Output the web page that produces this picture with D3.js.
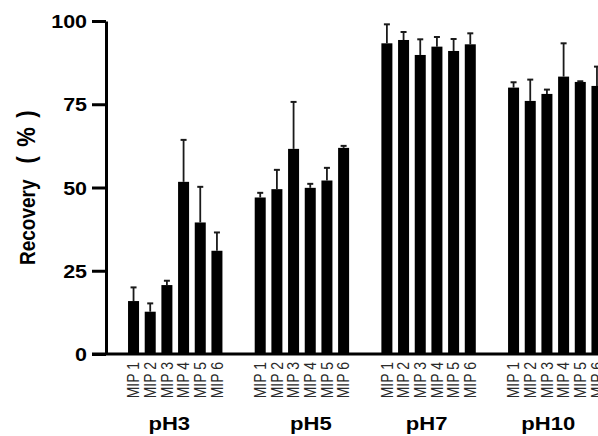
<!DOCTYPE html>
<html>
<head>
    <script src="https://d3js.org/d3.v7.min.js"></script>
    <style>
        body { margin: 0; background: #fff; font-family: "Liberation Sans", Arial, Helvetica, sans-serif; }
        svg { display: block; }
    </style>
</head>
<body>
    <svg width="598" height="436"></svg>
    <script>
        // categories
        let groups = ["pH3", "pH5", "pH7", "pH10"];
        let mips = ["MIP 1", "MIP 2", "MIP 3", "MIP 4", "MIP 5", "MIP 6"];
        let yTicks = [0, 25, 50, 75, 100];

        // recovery (%) means and upper error (SD)
        let pH3Mean = [15.9, 12.7, 20.7, 51.7, 39.5, 31.0];
        let pH3Err = [4.1, 2.5, 1.3, 12.6, 10.7, 5.5];
        let pH5Mean = [47.0, 49.5, 61.6, 49.9, 52.1, 61.9];
        let pH5Err = [1.4, 5.8, 14.1, 1.2, 3.8, 0.6];
        let pH7Mean = [93.3, 94.3, 89.8, 92.3, 91.0, 93.0];
        let pH7Err = [5.7, 2.4, 4.7, 2.9, 3.6, 3.3];
        let pH10Mean = [80.0, 76.0, 78.1, 83.3, 81.7, 80.5];
        let pH10Err = [1.6, 6.4, 1.3, 10.0, 0.2, 5.8];

        let means = [pH3Mean, pH5Mean, pH7Mean, pH10Mean];
        let errs = [pH3Err, pH5Err, pH7Err, pH10Err];

        let rows = [];
        groups.forEach((g, gi) => {
            mips.forEach((m, mi) => {
                rows.push({ group: g, mip: m, value: means[gi][mi], err: errs[gi][mi] });
            });
        });

        // the original figure is stretched a bit horizontally
        const stretch = "scale(1.16,1)";

        let svg = d3.select("svg");
        let axisX = 106, baseY = 354;

        let y = d3.scaleLinear().domain([0, 100]).range([baseY, 21]);

        let x0 = d3.scaleBand()
            .domain(groups)
            .range([125.2, 605.3])
            .paddingInner(0.21)
            .paddingOuter(0);

        let x1 = d3.scaleBand()
            .domain(mips)
            .range([0, x0.bandwidth()])
            .paddingInner(0.34)
            .paddingOuter(0.17);

        // bars
        svg.append("g").selectAll("rect")
            .data(rows)
            .enter().append("rect")
            .attr("x", d => x0(d.group) + x1(d.mip))
            .attr("y", d => y(d.value))
            .attr("width", x1.bandwidth())
            .attr("height", d => baseY - y(d.value))
            .attr("fill", "#000");

        // error bars (upper only)
        let eb = svg.append("g")
            .attr("stroke", "#1a1a1a");
        eb.selectAll("line.stem")
            .data(rows)
            .enter().append("line")
            .attr("class", "stem")
            .attr("stroke-width", 1.8)
            .attr("x1", d => x0(d.group) + x1(d.mip) + x1.bandwidth() / 2)
            .attr("x2", d => x0(d.group) + x1(d.mip) + x1.bandwidth() / 2)
            .attr("y1", d => y(d.value))
            .attr("y2", d => y(d.value + d.err));
        eb.selectAll("line.cap")
            .data(rows)
            .enter().append("line")
            .attr("class", "cap")
            .attr("stroke-width", 2)
            .attr("x1", d => x0(d.group) + x1(d.mip) + x1.bandwidth() / 2 - 3)
            .attr("x2", d => x0(d.group) + x1(d.mip) + x1.bandwidth() / 2 + 3)
            .attr("y1", d => y(d.value + d.err))
            .attr("y2", d => y(d.value + d.err));

        // y axis
        let yAxis = svg.append("g")
            .attr("transform", `translate(${axisX},0)`)
            .call(d3.axisLeft(y).tickValues(yTicks).tickSize(14).tickSizeOuter(0));
        yAxis.select(".domain").attr("stroke", "#000").attr("stroke-width", 3);
        yAxis.selectAll(".tick line").attr("stroke", "#000").attr("stroke-width", 3);
        yAxis.selectAll(".tick text")
            .attr("x", 0)
            .attr("dy", "0.36em")
            .attr("transform", `translate(-19,0) ${stretch}`)
            .attr("fill", "#000")
            .style("font-family", "'Liberation Sans', Arial, sans-serif")
            .style("font-size", "18.5px")
            .style("font-weight", "bold");

        // x axis baseline
        svg.append("line")
            .attr("x1", 92).attr("x2", 598)
            .attr("y1", baseY).attr("y2", baseY)
            .attr("stroke", "#000").attr("stroke-width", 3);

        // MIP tick labels per group
        groups.forEach(g => {
            let ax = svg.append("g")
                .attr("transform", `translate(${x0(g)},${baseY})`)
                .call(d3.axisBottom(x1).tickSize(0));
            ax.select(".domain").remove();
            ax.selectAll(".tick text")
                .attr("x", 0)
                .attr("y", 0)
                .attr("dy", "0.35em")
                .attr("text-anchor", "end")
                .attr("transform", `translate(0,8) ${stretch} rotate(-90)`)
                .attr("fill", "#2a2a2a")
                .style("font-family", "'Liberation Sans', Arial, sans-serif")
                .style("font-size", "14px");
        });

        // group labels
        let nudge = [-6, 9, -2, -7];
        svg.append("g").selectAll("text")
            .data(groups)
            .enter().append("text")
            .attr("text-anchor", "middle")
            .attr("transform", (d, i) => `translate(${x0(d) + x0.bandwidth() / 2 + nudge[i]},430) ${stretch}`)
            .style("font-size", "19px")
            .style("font-weight", "bold")
            .text(d => d);

        // y axis title: "Recovery" then a wide gap and a larger "( % )"
        let title = svg.append("text")
            .attr("x", 0)
            .attr("dy", "0.36em")
            .attr("transform", `translate(27,265) ${stretch} rotate(-90)`)
            .style("font-size", "19px")
            .style("font-weight", "bold");
        title.append("tspan").text("Recovery");
        title.append("tspan")
            .attr("dx", 16)
            .attr("textLength", 53)
            .attr("lengthAdjust", "spacing")
            .style("font-size", "22px")
            .text("( % )");
    </script>
</body>
</html>
